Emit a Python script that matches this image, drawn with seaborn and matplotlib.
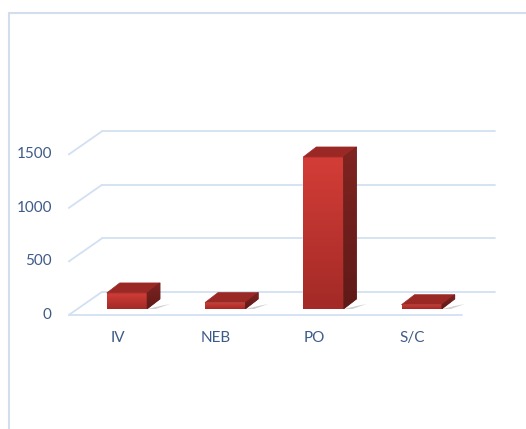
import numpy as np
import pandas as pd
import matplotlib
matplotlib.use("Agg")
import matplotlib.pyplot as plt
from matplotlib.patches import Polygon
import seaborn as sns

# data
categories = ["IV", "NEB", "PO", "S/C"]
values = [150, 60, 1420, 40]
ytick_values = [0, 500, 1000, 1500]

sns.set_theme(style="white")
plt.rcParams["font.family"] = ["Lato", "DejaVu Sans"]

W, H = 526, 429
fig = plt.figure(figsize=(W / 100, H / 100), dpi=100)

# axes in the plane of the bar fronts (pixel layout of the original)
ax_left, ax_bottom_px, ax_w, ax_h = 77.8, 309, 393, 182
ax = fig.add_axes([ax_left / W, (H - ax_bottom_px) / H, ax_w / W, ax_h / H])
ax.set_xlim(-0.5, 3.5)
ax.set_ylim(0, 1700)
ax.axis("off")

# data units per pixel
ux = 4 / ax_w
uy = 1700 / ax_h

grid_col = "#d2e0f2"
back = (24 * ux, 17 * uy)     # back wall offset
front = (-9 * ux, -6 * uy)    # front floor edge offset

# back wall gridlines + left wall diagonals
for v in ytick_values:
    ax.plot([-0.5 + back[0], 3.5 + back[0]], [v + back[1], v + back[1]],
            color=grid_col, lw=1.3, clip_on=False, zorder=0)
    ax.plot([-0.5 + front[0], -0.5 + back[0]], [v + front[1], v + back[1]],
            color=grid_col, lw=1.3, clip_on=False, zorder=0)
# front floor edge
ax.plot([-0.5 + front[0], 3.5 + front[0]], [front[1], front[1]],
        color=grid_col, lw=1.3, clip_on=False, zorder=0)

df = pd.DataFrame({"cat": categories, "val": values})
sns.barplot(data=df, x="cat", y="val", color="#b52e2a", width=0.41,
            saturation=1, ax=ax, zorder=3)
ax.set_xlim(-0.5, 3.5)
ax.set_ylim(0, 1700)

# 3d depth for bars
bd = (13 * ux, 10 * uy)
grad = np.linspace(0, 1, 100).reshape(-1, 1)
cmap_front = matplotlib.colors.LinearSegmentedColormap.from_list("f", ["#a32a27", "#d43d37"])
cmap_side = matplotlib.colors.LinearSegmentedColormap.from_list("s", ["#5e1a18", "#7f2421"])
for p in list(ax.patches):
    x0, y0 = p.get_x(), p.get_y()
    w, h = p.get_width(), p.get_height()
    x1, y1 = x0 + w, y0 + h
    # shadow
    sh = Polygon([(x1, y0), (x1 + bd[0], y0 + bd[1] * 0.3), (x1 + bd[0] + 10 * ux, y0 + bd[1] * 0.5),
                  (x1 + 6 * ux, y0 - 1 * uy), (x0 - 4 * ux, y0 - 1 * uy), (x0, y0)],
                 closed=True, fc="#7a7a7a", ec="none", alpha=0.35, zorder=2)
    ax.add_patch(sh)
    # front gradient
    im = ax.imshow(grad, extent=(x0, x1, y0, y1), origin="lower", cmap=cmap_front,
                   aspect="auto", zorder=3.5)
    im.set_clip_path(p)
    top = Polygon([(x0, y1), (x1, y1), (x1 + bd[0], y1 + bd[1]), (x0 + bd[0], y1 + bd[1])],
                  closed=True, fc="#9a2926", ec="#9a2926", lw=0.5, zorder=4)
    ax.add_patch(top)
    side = Polygon([(x1, y0), (x1 + bd[0], y0 + bd[1]), (x1 + bd[0], y1 + bd[1]), (x1, y1)],
                   closed=True, fc="#6c201d", ec="#6c201d", lw=0.5, zorder=4)
    ax.add_patch(side)
    ims = ax.imshow(grad, extent=(x1, x1 + bd[0], y0, y1 + bd[1]), origin="lower",
                    cmap=cmap_side, aspect="auto", zorder=4.5)
    ims.set_clip_path(side)
ax.set_xlim(-0.5, 3.5)
ax.set_ylim(0, 1700)

# tick labels on the front plane
lab_col = "#3e5b88"
for v in ytick_values:
    ax.text(-0.5 + front[0] - 17 * ux, v + front[1], str(v), ha="right", va="center",
            fontsize=11, color=lab_col, clip_on=False)
for i, c in enumerate(categories):
    ax.text(i + front[0], front[1] - 23 * uy, c, ha="center", va="center",
            fontsize=11, color=lab_col, clip_on=False)

# chart frame
frame_col = "#d2deed"
fig.add_artist(plt.Line2D([8.5 / W, 8.5 / W], [0, (H - 12.5) / H], color=frame_col, lw=1.5))
fig.add_artist(plt.Line2D([8.5 / W, 1], [(H - 12.5) / H, (H - 12.5) / H], color=frame_col, lw=1.5))

fig.savefig("out.png", dpi=100)
